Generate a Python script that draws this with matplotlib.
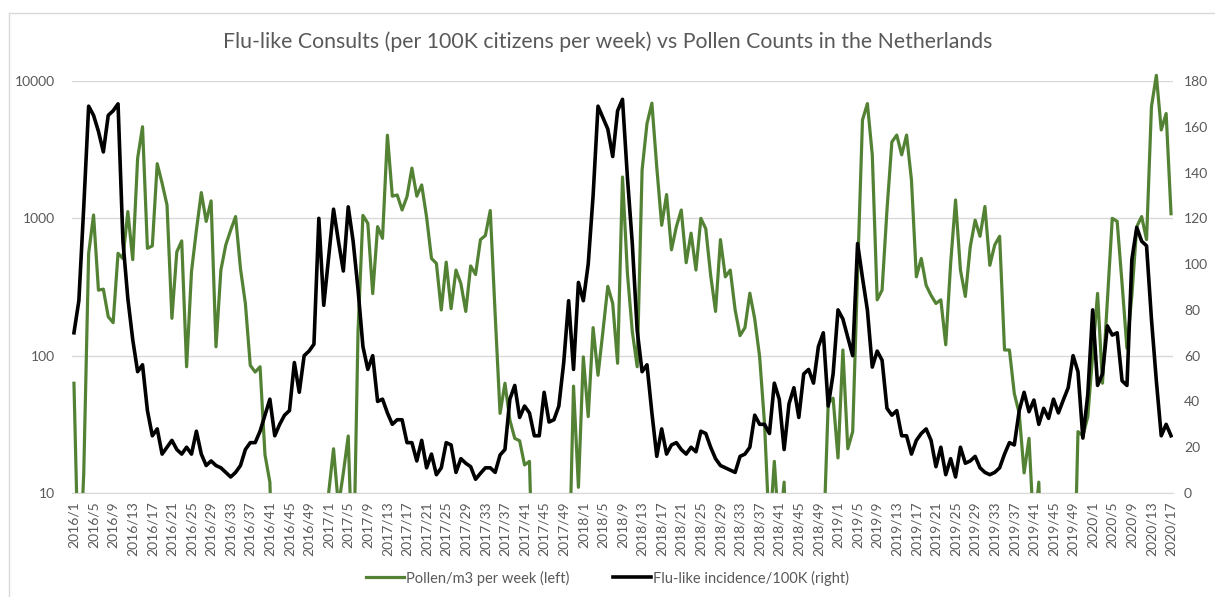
import matplotlib
matplotlib.use("Agg")
import matplotlib.pyplot as plt
from matplotlib.patches import Rectangle
from matplotlib.lines import Line2D
import numpy as np

plt.rcParams["font.family"] = ["Lato", "DejaVu Sans"]

# week labels 2016/1 .. 2020/17 (52 weeks per year)
years = [2016, 2017, 2018, 2019, 2020]
weeks_per_year = [52, 52, 52, 52, 17]
week_labels = [f"{y}/{w}" for y, n in zip(years, weeks_per_year) for w in range(1, n + 1)]

# pollen per m3 per week (left, log axis); values below 10 fall off the axis
pollen_2016 = [63, 2, 14, 556, 1057, 300, 305, 192, 174, 556, 510, 1120, 500, 2735, 4645,
               605, 630, 2500, 1800, 1250, 187, 570, 685, 83, 410, 820, 1540, 950, 1340, 116,
               420, 640, 820, 1030, 430, 240, 85, 76, 83, 19, 12, 1, 1, 1, 1, 1,
               1, 1, 1, 1, 1, 1]
pollen_2017 = [10, 21, 8, 14, 26, 2, 150, 1050, 920, 283, 870, 715, 4030, 1450, 1480,
               1150, 1440, 2320, 1450, 1750, 1020, 510, 470, 215, 480, 220, 420, 335, 210, 450,
               390, 700, 750, 1140, 200, 38, 63, 34, 25, 24, 16, 17, 1, 1, 1,
               1, 1, 1, 1, 2, 60, 11]
pollen_2018 = [98, 36, 160, 72, 150, 320, 240, 88, 2000, 400, 150, 83, 2250, 4900, 6900,
               2350, 890, 1490, 590, 870, 1150, 475, 780, 420, 1000, 840, 385, 210, 700, 375,
               420, 215, 140, 160, 285, 185, 98, 32, 5, 17, 5, 12, 1, 1, 1,
               1, 1, 1, 1, 4, 45, 49]
pollen_2019 = [18, 110, 21, 28, 400, 5200, 6850, 2900, 255, 300, 1150, 3600, 4040, 2900, 4040,
               1900, 375, 510, 325, 275, 240, 255, 120, 470, 1360, 420, 270, 620, 970, 740,
               1220, 455, 640, 740, 110, 110, 53, 38, 14, 25, 5, 12, 1, 1, 1,
               1, 1, 1, 1, 28, 26, 36]
pollen_2020 = [100, 284, 63, 255, 1000, 950, 335, 113, 275, 870, 1030, 700, 6500, 11000, 4400,
               5800, 1080]

# flu-like incidence per 100K (right axis)
flu_2016 = [70, 84, 125, 169, 165, 158, 149, 165, 167, 170, 110, 85, 67, 53, 56,
            36, 25, 28, 17, 20, 23, 19, 17, 20, 17, 27, 17, 12, 14, 12,
            11, 9, 7, 9, 12, 19, 22, 22, 27, 34, 41, 25, 30, 34, 36,
            57, 44, 60, 62, 65, 120, 82]
flu_2017 = [103, 124, 110, 97, 125, 110, 89, 64, 54, 60, 40, 41, 35, 30, 32,
            32, 22, 22, 14, 23, 11, 17, 8, 11, 22, 21, 9, 15, 13, 11.5,
            6, 8.6, 11, 11, 9, 16.6, 19, 41, 47, 33, 38, 35, 25, 25, 44,
            31, 32, 38, 57, 84, 54, 92]
flu_2018 = [84, 100, 130, 169, 164, 159, 147, 167, 172, 138, 109, 71, 53, 56, 35,
            16, 28, 17, 21, 22, 19, 17, 20, 18, 27, 26, 20, 15, 12, 11,
            10, 9, 16, 17, 20, 34, 30, 30, 26, 48, 41, 19, 39, 46, 33,
            52, 54, 48, 64, 70, 38, 52]
flu_2019 = [80, 76, 68, 60, 109, 94, 80, 55, 62, 58, 37, 34, 36, 25, 25,
            17, 23, 26, 28, 23, 11.5, 20, 8, 15, 7, 20, 13, 14, 16, 11,
            9, 8, 9, 11, 17, 22, 21, 36, 44, 35.5, 40.6, 30, 37, 32.6, 41,
            35, 40.6, 46, 60, 53, 24, 43]
flu_2020 = [80, 47, 52, 73, 69, 70, 49, 47, 102, 116, 110, 108, 76, 49, 25,
            30, 25]

pollen = pollen_2016 + pollen_2017 + pollen_2018 + pollen_2019 + pollen_2020
flu = flu_2016 + flu_2017 + flu_2018 + flu_2019 + flu_2020
assert len(pollen) == len(week_labels) == len(flu)

green = "#548235"
grey_text = "#595959"
grid_col = "#d9d9d9"


def main():
    fig = plt.figure(figsize=(12.15, 5.97), dpi=100)
    W, H = 1215, 597
    ax = fig.add_axes([72 / W, 1 - 493 / H, (1173 - 72) / W, (493 - 81) / H])
    ax2 = ax.twinx()

    x = np.arange(len(week_labels))

    # pollen on log axis
    ln, = ax.plot(x, pollen, color=green, linewidth=2.3, solid_joinstyle="round")
    clip = Rectangle((0, 0), 1, 1.05, transform=ax.transAxes, visible=False)
    ax.add_patch(clip)
    ln.set_clip_path(clip)
    ax.set_yscale("log")
    ax.set_ylim(10, 10000)
    ax.set_yticks([10, 100, 1000, 10000])
    ax.set_yticklabels(["10", "100", "1000", "10000"])
    ax.yaxis.set_minor_locator(matplotlib.ticker.NullLocator())
    ax.grid(axis="y", color=grid_col, linewidth=1)
    ax.set_axisbelow(True)

    # flu on linear right axis
    ax2.plot(x, flu, color="black", linewidth=2.6, solid_joinstyle="round")
    ax2.set_ylim(0, 180)
    ax2.set_yticks(range(0, 181, 20))

    ax.set_xlim(-0.4, len(x) - 1 + 0.4)
    ax.set_xticks(x[::4])
    ax.set_xticklabels(week_labels[::4], rotation=90)

    for a in (ax, ax2):
        for s in a.spines.values():
            s.set_visible(False)
        a.tick_params(length=0, colors=grey_text, labelsize=10)
    ax.tick_params(axis="x", pad=6)
    ax.tick_params(axis="y", pad=12)
    ax2.tick_params(axis="y", pad=8)
    ax.spines["bottom"].set_visible(True)
    ax.spines["bottom"].set_color(grid_col)

    fig.text(0.5, 1 - 42 / H, "Flu-like Consults (per 100K citizens per week) vs Pollen Counts in the Netherlands",
             ha="center", va="center", fontsize=15.3, color=grey_text)

    handles = [Line2D([], [], color=green, linewidth=2.3),
               Line2D([], [], color="black", linewidth=2.6)]
    fig.legend(handles, ["Pollen/m3 per week (left)", "Flu-like incidence/100K (right)"],
               loc="center", bbox_to_anchor=(0.5, 1 - 578 / H), ncol=2, frameon=False,
               fontsize=10.5, labelcolor=grey_text, handlelength=2.6, handletextpad=0.15,
               columnspacing=3.0)

    # chart area border
    fig.add_artist(Line2D([8.5 / W, 1], [1 - 13 / H, 1 - 13 / H], color=grid_col, linewidth=1))
    fig.add_artist(Line2D([8.5 / W, 8.5 / W], [0, 1 - 13 / H], color=grid_col, linewidth=1))

    fig.savefig("out.png", dpi=100)


if __name__ == "__main__":
    main()
